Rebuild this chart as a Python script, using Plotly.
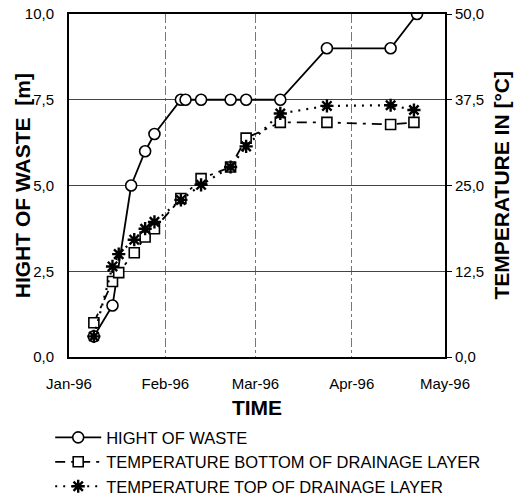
import plotly.graph_objects as go

# ---- data ----
height_dates = ["1996-01-09", "1996-01-15", "1996-01-21", "1996-01-25 12:00", "1996-01-28 12:00",
                "1996-02-06", "1996-02-07 12:00", "1996-02-12 12:00", "1996-02-22", "1996-02-27",
                "1996-03-09", "1996-03-24", "1996-04-13 12:00", "1996-04-22"]
height_m = [0.6, 1.5, 5.0, 6.0, 6.5, 7.5, 7.5, 7.5, 7.5, 7.5, 7.5, 9.0, 9.0, 10.0]

temp_dates = ["1996-01-09", "1996-01-15", "1996-01-17", "1996-01-22", "1996-01-25 12:00",
              "1996-01-28 12:00", "1996-02-06", "1996-02-12 12:00", "1996-02-22", "1996-02-27",
              "1996-03-09", "1996-03-24", "1996-04-13 12:00", "1996-04-21"]
temp_bottom = [5.0, 11.0, 12.3, 15.2, 17.5, 18.7, 23.1, 26.0, 27.7, 31.9, 34.2, 34.2, 33.9, 34.2]
temp_top = [3.0, 13.2, 15.0, 17.1, 18.7, 19.7, 22.9, 25.1, 27.7, 30.7, 35.5, 36.6, 36.7, 36.0]

x_tickvals = ["1996-01-01", "1996-02-01", "1996-03-01", "1996-04-01", "1996-05-01"]
x_ticktext = ["Jan-96", "Feb-96", "Mar-96", "Apr-96", "May-96"]
left_ticks = [0, 2.5, 5.0, 7.5, 10.0]
left_labels = ["0,0", "2,5", "5,0", "7,5", "10,0"]
right_ticks = [0, 12.5, 25.0, 37.5, 50.0]
right_labels = ["0,0", "12,5", "25,0", "37,5", "50,0"]

left_title = "HIGHT OF WASTE  [m]"
right_title = "TEMPERATURE IN [°C]"
x_title = "TIME"

FONT = "Liberation Sans, Arial, sans-serif"

fig = go.Figure()
fig.add_trace(go.Scatter(
    x=height_dates, y=height_m, name="HIGHT OF WASTE", mode="lines+markers",
    line=dict(color="black", width=1.8),
    marker=dict(symbol="circle", size=11, color="white", line=dict(color="black", width=1.6)),
    yaxis="y"))
fig.add_trace(go.Scatter(
    x=temp_dates, y=temp_bottom, name="TEMPERATURE BOTTOM OF DRAINAGE LAYER", mode="lines+markers",
    line=dict(color="black", width=1.8, dash="10px,6px,3px,6px"),
    marker=dict(symbol="square", size=10, color="white", line=dict(color="black", width=1.6)),
    yaxis="y2"))
fig.add_trace(go.Scatter(
    x=temp_dates, y=temp_top, name="TEMPERATURE TOP OF DRAINAGE LAYER", mode="lines+markers",
    line=dict(color="black", width=2.2, dash="2px,6px"),
    marker=dict(symbol="asterisk", size=11, color="black", line=dict(color="black", width=2.4)),
    yaxis="y2"))

fig.update_layout(
    width=522, height=498,
    margin=dict(l=69, r=77, t=14, b=141, autoexpand=False),
    paper_bgcolor="white", plot_bgcolor="white",
    font=dict(family=FONT, color="black", size=15),
    showlegend=True,
    legend=dict(x=-0.05, y=-0.184, xanchor="left", yanchor="top",
                font=dict(size=16.5, family=FONT), bgcolor="rgba(0,0,0,0)",
                tracegroupgap=0, itemwidth=46),
    xaxis=dict(
        type="date", range=["1996-01-01", "1996-05-01"],
        tickvals=x_tickvals, ticktext=x_ticktext, tickfont=dict(size=15),
        showgrid=True, gridcolor="#777", gridwidth=1, griddash="dashdot",
        showline=True, linecolor="black", linewidth=2, mirror=True,
        ticks="outside", ticklen=12, tickcolor="rgba(0,0,0,0)", zeroline=False,
        title=dict(text="<b>" + x_title + "</b>", font=dict(size=21), standoff=9),
        automargin=False,
    ),
    yaxis=dict(
        range=[0, 10], tickvals=left_ticks, ticktext=left_labels, tickfont=dict(size=15),
        showgrid=True, gridcolor="#444", gridwidth=1.3,
        showline=True, linecolor="black", linewidth=2, mirror=True,
        ticks="outside", ticklen=10, tickcolor="rgba(0,0,0,0)", zeroline=False,
        automargin=False,
    ),
    yaxis2=dict(
        range=[0, 50], tickvals=right_ticks, ticktext=right_labels, tickfont=dict(size=15),
        overlaying="y", side="right", showgrid=False,
        ticks="outside", ticklen=6, tickcolor="black", zeroline=False,
        automargin=False,
    ),
    annotations=[
        dict(text="<b>" + left_title + "</b>", textangle=-90, xref="paper", yref="paper",
             x=-0.123, y=0.5, xanchor="center", yanchor="middle", showarrow=False,
             font=dict(size=21, family=FONT)),
        dict(text="<b>" + right_title + "</b>", textangle=-90, xref="paper", yref="paper",
             x=1.149, y=0.5, xanchor="center", yanchor="middle", showarrow=False,
             font=dict(size=21, family=FONT)),
    ],
)

fig.write_html("out.html")
